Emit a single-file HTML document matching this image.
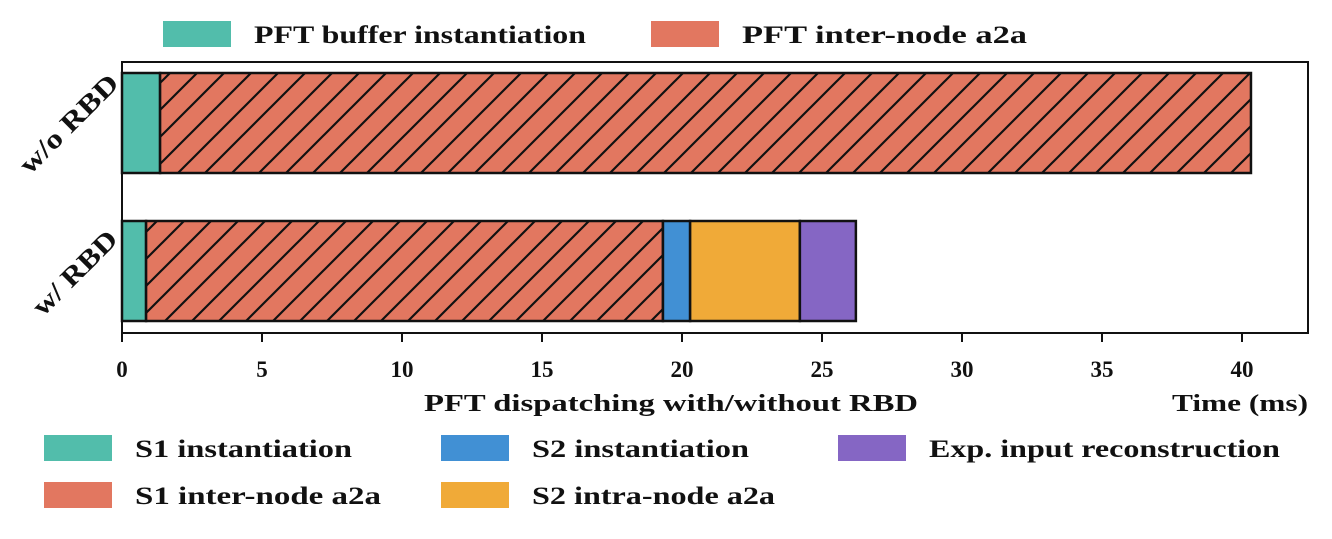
<!DOCTYPE html>
<html><head><meta charset="utf-8"><style>
body{margin:0;background:#fff}
svg text{font-family:"Liberation Serif",serif;font-weight:bold;fill:#111}
</style></head><body>
<svg width="1332" height="534">
<defs>
<pattern id="hatch" patternUnits="userSpaceOnUse" width="27" height="27">
<path d="M-7,7 L7,-7 M0,27 L27,0 M20,34 L34,20" stroke="#111" stroke-width="2.2"/>
</pattern>
</defs>
<g id="legend-top"></g>
<rect x="122" y="62" width="1186" height="271" fill="none" stroke="#111" stroke-width="2"/>
<g id="bars"></g>
<g id="xaxis"></g>
<text x="68" y="133" transform="rotate(-45 68 123)" font-size="27" text-anchor="middle" textLength="128" lengthAdjust="spacingAndGlyphs">w/o RBD</text>
<text x="74" y="282" transform="rotate(-45 74 272)" font-size="27" text-anchor="middle" textLength="108" lengthAdjust="spacingAndGlyphs">w/ RBD</text>
<text x="424" y="411" font-size="24" textLength="494" lengthAdjust="spacingAndGlyphs">PFT dispatching with/without RBD</text>
<text x="1172" y="411" font-size="24" textLength="136" lengthAdjust="spacingAndGlyphs">Time (ms)</text>
<g id="legend-bottom"></g>
</svg>
<script>
const categories=["w/o RBD","w/ RBD"];
const segLabelsWo=["PFT buffer instantiation","PFT inter-node a2a"];
const segValuesWo=[1.36,38.96];
const segLabelsW=["S1 instantiation","S1 inter-node a2a","S2 instantiation","S2 intra-node a2a","Exp. input reconstruction"];
const segValuesW=[0.86,18.46,0.97,3.92,2.0];
const xTicks=[0,5,10,15,20,25,30,35,40];
const NS="http://www.w3.org/2000/svg";
const x0=122,pxPer=28;
function xs(v){return x0+v*pxPer;}
const colors={"PFT buffer instantiation":"#52bdab","PFT inter-node a2a":"#e27760","S1 instantiation":"#52bdab","S1 inter-node a2a":"#e27760","S2 instantiation":"#4190d4","S2 intra-node a2a":"#f0aa38","Exp. input reconstruction":"#8566c4"};
const hatched={"PFT inter-node a2a":1,"S1 inter-node a2a":1};
function mk(t,a,p){const e=document.createElementNS(NS,t);for(const k in a)e.setAttribute(k,a[k]);p.appendChild(e);return e;}
const bars=document.getElementById('bars');
[[segLabelsWo,segValuesWo,73],[segLabelsW,segValuesW,221]].forEach((r,ri)=>{
 let acc=0;
 r[0].forEach((lab,i)=>{
  const v=r[1][i];
  const g=mk('g',{},bars);
  
  
  const a={x:xs(acc),y:r[2],width:v*pxPer,height:100};
  mk('rect',Object.assign({fill:colors[lab]},a),g);
  if(hatched[lab])mk('rect',Object.assign({fill:'url(#hatch)'},a),g);
  mk('rect',Object.assign({fill:'none',stroke:'#111','stroke-width':2.5},a),g);
  acc+=v;
 });
});
const xa=document.getElementById('xaxis');
xTicks.forEach(t=>{
 const l=mk('line',{x1:xs(t),x2:xs(t),y1:333,y2:342,stroke:'#111','stroke-width':2},xa);
 
 
 const tx=mk('text',{x:xs(t),y:377,'font-size':23,'text-anchor':'middle'},xa);
 tx.textContent=t;
 
 
});
const textWidths={"PFT buffer instantiation":332,"PFT inter-node a2a":285,"S1 instantiation":217,"S1 inter-node a2a":246,"S2 instantiation":217,"S2 intra-node a2a":243,"Exp. input reconstruction":351};
function legend(parent,lab,x,y){
 const g=mk('g',{},parent);
 
 
 mk('rect',{x:x,y:y,width:68,height:26,fill:colors[lab]},g);
 const t=mk('text',{x:x+91,y:y+22,'font-size':25,textLength:textWidths[lab],lengthAdjust:'spacingAndGlyphs'},g);t.textContent=lab;
}
const lt=document.getElementById('legend-top');
legend(lt,segLabelsWo[0],163,21);legend(lt,segLabelsWo[1],651,21);
const lb=document.getElementById('legend-bottom');
legend(lb,segLabelsW[0],44,435);legend(lb,segLabelsW[1],44,482);
legend(lb,segLabelsW[2],441,435);legend(lb,segLabelsW[3],441,482);
legend(lb,segLabelsW[4],838,435);
</script>
</body></html>
